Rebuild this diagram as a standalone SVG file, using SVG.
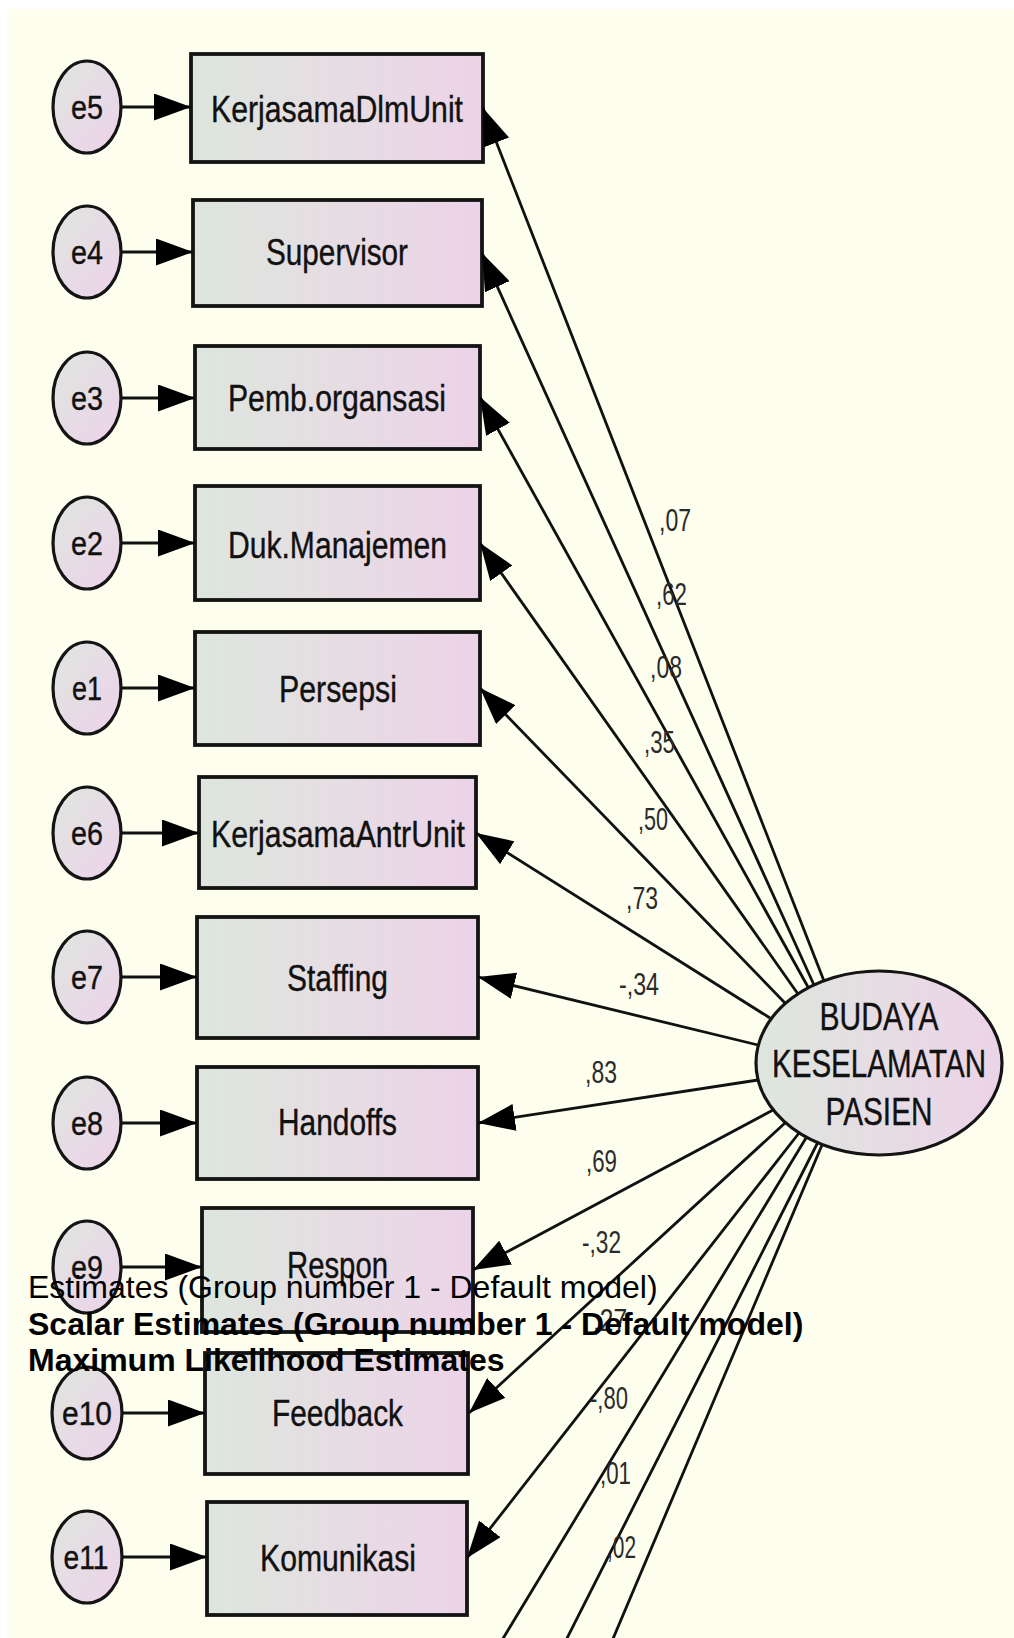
<svg xmlns="http://www.w3.org/2000/svg" width="1014" height="1638" viewBox="0 0 1014 1638">
  <defs>
    <style>
      .bg { fill: #fdfeee; }
      .box { stroke: #141414; stroke-width: 3.8; fill: url(#boxFill); }
      .err { stroke: #141414; stroke-width: 3.2; fill: url(#errFill); }
      .lat { stroke: #141414; stroke-width: 3.2; fill: url(#boxFill); }
      .lbl { font-family: "Liberation Sans", Arial, sans-serif; font-size: 37px; fill: #111; stroke: #111; stroke-width: 0.4; text-anchor: middle; }
      .elbl { font-family: "Liberation Sans", Arial, sans-serif; font-size: 33px; fill: #111; stroke: #111; stroke-width: 0.4; text-anchor: middle; }
      .latlbl { font-family: "Liberation Sans", Arial, sans-serif; font-size: 38px; fill: #111; stroke: #111; stroke-width: 0.4; text-anchor: middle; }
      .coef { font-family: "Liberation Sans", Arial, sans-serif; font-size: 31px; fill: #2a2a2a; }
      .edge { stroke: #111; stroke-width: 2.8; fill: none; marker-end: url(#head); }
      .edge.open { marker-end: none; }
      .eedge { stroke: #111; stroke-width: 3.2; fill: none; marker-end: url(#head); }
      .note { font-family: "Liberation Sans", Arial, sans-serif; font-size: 32px; fill: #000; }
      .note.b { font-weight: bold; }
    </style>
    <linearGradient id="boxFill" x1="0" y1="0" x2="1" y2="0">
      <stop offset="0" stop-color="#dde6de"/>
      <stop offset="0.5" stop-color="#e6dde3"/>
      <stop offset="1" stop-color="#ecd3e8"/>
    </linearGradient>
    <linearGradient id="errFill" x1="0" y1="0" x2="1" y2="1">
      <stop offset="0" stop-color="#dfe6df"/>
      <stop offset="1" stop-color="#edd2ea"/>
    </linearGradient>
    <marker id="head" viewBox="0 0 37 27" markerWidth="37" markerHeight="27" refX="37" refY="13.5" markerUnits="userSpaceOnUse" orient="auto">
      <path d="M0,0 L37,13.5 L0,27 Z" fill="#000"/>
    </marker>
  </defs>

  <rect x="0" y="0" width="1014" height="1638" fill="#ffffff"/>
  <rect class="bg" x="7" y="9" width="1007" height="1629"/>

  <!-- observed indicators -->
  <g id="KerjasamaDlmUnit"><rect class="box" x="191" y="54" width="292" height="108"/><text class="lbl" x="337" y="122" textLength="252" lengthAdjust="spacingAndGlyphs">KerjasamaDlmUnit</text></g>
  <g id="Supervisor"><rect class="box" x="193" y="200" width="289" height="106"/><text class="lbl" x="337" y="265" textLength="142" lengthAdjust="spacingAndGlyphs">Supervisor</text></g>
  <g id="Pemb.organsasi"><rect class="box" x="195" y="346" width="285" height="103"/><text class="lbl" x="337" y="411" textLength="218" lengthAdjust="spacingAndGlyphs">Pemb.organsasi</text></g>
  <g id="Duk.Manajemen"><rect class="box" x="195" y="486" width="285" height="114"/><text class="lbl" x="337.5" y="558" textLength="219" lengthAdjust="spacingAndGlyphs">Duk.Manajemen</text></g>
  <g id="Persepsi"><rect class="box" x="195" y="632" width="285" height="113"/><text class="lbl" x="338" y="702" textLength="118" lengthAdjust="spacingAndGlyphs">Persepsi</text></g>
  <g id="KerjasamaAntrUnit"><rect class="box" x="199" y="777" width="277" height="111"/><text class="lbl" x="338" y="847" textLength="254" lengthAdjust="spacingAndGlyphs">KerjasamaAntrUnit</text></g>
  <g id="Staffing"><rect class="box" x="197" y="917" width="281" height="121"/><text class="lbl" x="337.5" y="991" textLength="101" lengthAdjust="spacingAndGlyphs">Staffing</text></g>
  <g id="Handoffs"><rect class="box" x="197" y="1067" width="281" height="112"/><text class="lbl" x="337.5" y="1135" textLength="119" lengthAdjust="spacingAndGlyphs">Handoffs</text></g>
  <g id="Respon"><rect class="box" x="202" y="1208" width="271" height="124"/><text class="lbl" x="337.5" y="1278" textLength="101" lengthAdjust="spacingAndGlyphs">Respon</text></g>
  <g id="Feedback"><rect class="box" x="205" y="1353" width="263" height="121"/><text class="lbl" x="337.5" y="1426" textLength="131" lengthAdjust="spacingAndGlyphs">Feedback</text></g>
  <g id="Komunikasi"><rect class="box" x="207" y="1502" width="260" height="113"/><text class="lbl" x="338" y="1571" textLength="156" lengthAdjust="spacingAndGlyphs">Komunikasi</text></g>

  <!-- error terms -->
  <g id="e5"><ellipse class="err" cx="87" cy="107" rx="34" ry="46"/><text class="elbl" x="87" y="119" textLength="32" lengthAdjust="spacingAndGlyphs">e5</text></g>
  <g id="e4"><ellipse class="err" cx="87" cy="252" rx="34" ry="46"/><text class="elbl" x="87" y="264" textLength="32" lengthAdjust="spacingAndGlyphs">e4</text></g>
  <g id="e3"><ellipse class="err" cx="87" cy="398" rx="34" ry="46"/><text class="elbl" x="87" y="410" textLength="32" lengthAdjust="spacingAndGlyphs">e3</text></g>
  <g id="e2"><ellipse class="err" cx="87" cy="543" rx="34" ry="46"/><text class="elbl" x="87" y="555" textLength="32" lengthAdjust="spacingAndGlyphs">e2</text></g>
  <g id="e1"><ellipse class="err" cx="87" cy="688" rx="34" ry="46"/><text class="elbl" x="87" y="700" textLength="30" lengthAdjust="spacingAndGlyphs">e1</text></g>
  <g id="e6"><ellipse class="err" cx="87" cy="833" rx="34" ry="46"/><text class="elbl" x="87" y="845" textLength="32" lengthAdjust="spacingAndGlyphs">e6</text></g>
  <g id="e7"><ellipse class="err" cx="87" cy="977" rx="34" ry="46"/><text class="elbl" x="87" y="989" textLength="32" lengthAdjust="spacingAndGlyphs">e7</text></g>
  <g id="e8"><ellipse class="err" cx="87" cy="1123" rx="34" ry="46"/><text class="elbl" x="87" y="1135" textLength="32" lengthAdjust="spacingAndGlyphs">e8</text></g>
  <g id="e9"><ellipse class="err" cx="87" cy="1267" rx="34" ry="46"/><text class="elbl" x="87" y="1279" textLength="32" lengthAdjust="spacingAndGlyphs">e9</text></g>
  <g id="e10"><ellipse class="err" cx="87" cy="1413" rx="35" ry="46"/><text class="elbl" x="87" y="1425" textLength="50" lengthAdjust="spacingAndGlyphs">e10</text></g>
  <g id="e11"><ellipse class="err" cx="87" cy="1557" rx="35" ry="46"/><text class="elbl" x="86" y="1569" textLength="45" lengthAdjust="spacingAndGlyphs">e11</text></g>

  <!-- latent factor -->
  <g id="BUDAYA_KESELAMATAN_PASIEN">
    <ellipse class="lat" cx="879" cy="1063" rx="123" ry="92"/>
    <text class="latlbl" x="879" y="1030" textLength="119" lengthAdjust="spacingAndGlyphs">BUDAYA</text>
    <text class="latlbl" x="879" y="1077" textLength="214" lengthAdjust="spacingAndGlyphs">KESELAMATAN</text>
    <text class="latlbl" x="879" y="1125" textLength="107" lengthAdjust="spacingAndGlyphs">PASIEN</text>
  </g>

  <!-- paths -->
  <g id="connectors">
    <path class="eedge" d="M121,107 L191,107"/>
    <path class="eedge" d="M121,252 L193,252"/>
    <path class="eedge" d="M121,398 L195,398"/>
    <path class="eedge" d="M121,543 L195,543"/>
    <path class="eedge" d="M121,688 L195,688"/>
    <path class="eedge" d="M121,833 L199,833"/>
    <path class="eedge" d="M121,977 L197,977"/>
    <path class="eedge" d="M121,1123 L197,1123"/>
    <path class="eedge" d="M121,1267 L202,1267"/>
    <path class="eedge" d="M122,1413 L205,1413"/>
    <path class="eedge" d="M122,1557 L207,1557"/>

    <path class="edge" d="M824,981 L483,108"/>
    <path class="edge" d="M814,985 L482,253"/>
    <path class="edge" d="M808,987 L480,397"/>
    <path class="edge" d="M798,994 L480,543"/>
    <path class="edge" d="M785,1003 L480,688"/>
    <path class="edge" d="M770,1018 L476,833"/>
    <path class="edge" d="M758,1045 L478,977"/>
    <path class="edge" d="M758,1080 L478,1123"/>
    <path class="edge" d="M773,1110 L473,1270"/>
    <path class="edge" d="M785,1123 L469,1413"/>
    <path class="edge" d="M799,1133 L467,1558"/>
    <path class="edge open" d="M806,1138 L490,1660"/>
    <path class="edge open" d="M818,1142 L556,1660"/>
    <path class="edge open" d="M822,1145 L604,1660"/>

    <g id="coefficients">
      <text class="coef" x="659" y="531" textLength="32" lengthAdjust="spacingAndGlyphs">,07</text>
      <text class="coef" x="656" y="605" textLength="31" lengthAdjust="spacingAndGlyphs">,62</text>
      <text class="coef" x="650" y="678" textLength="32" lengthAdjust="spacingAndGlyphs">,08</text>
      <text class="coef" x="644" y="753" textLength="31" lengthAdjust="spacingAndGlyphs">,35</text>
      <text class="coef" x="638" y="830" textLength="30" lengthAdjust="spacingAndGlyphs">,50</text>
      <text class="coef" x="626" y="909" textLength="32" lengthAdjust="spacingAndGlyphs">,73</text>
      <text class="coef" x="619" y="995" textLength="40" lengthAdjust="spacingAndGlyphs">-,34</text>
      <text class="coef" x="585" y="1083" textLength="32" lengthAdjust="spacingAndGlyphs">,83</text>
      <text class="coef" x="586" y="1172" textLength="31" lengthAdjust="spacingAndGlyphs">,69</text>
      <text class="coef" x="582" y="1253" textLength="39" lengthAdjust="spacingAndGlyphs">-,32</text>
      <text class="coef" x="593" y="1331" textLength="34" lengthAdjust="spacingAndGlyphs">,27</text>
      <text class="coef" x="590" y="1409" textLength="38" lengthAdjust="spacingAndGlyphs">-,80</text>
      <text class="coef" x="600" y="1484" textLength="31" lengthAdjust="spacingAndGlyphs">,01</text>
      <text class="coef" x="607" y="1558" textLength="29" lengthAdjust="spacingAndGlyphs">,02</text>
    </g>
  </g>

  <!-- output caption lines printed over the drawing -->
  <g id="caption">
    <text class="note" x="28" y="1298">Estimates (Group number 1 - Default model)</text>
    <text class="note b" x="28" y="1335">Scalar Estimates (Group number 1 - Default model)</text>
    <text class="note b" x="28" y="1371">Maximum Likelihood Estimates</text>
  </g>
</svg>
